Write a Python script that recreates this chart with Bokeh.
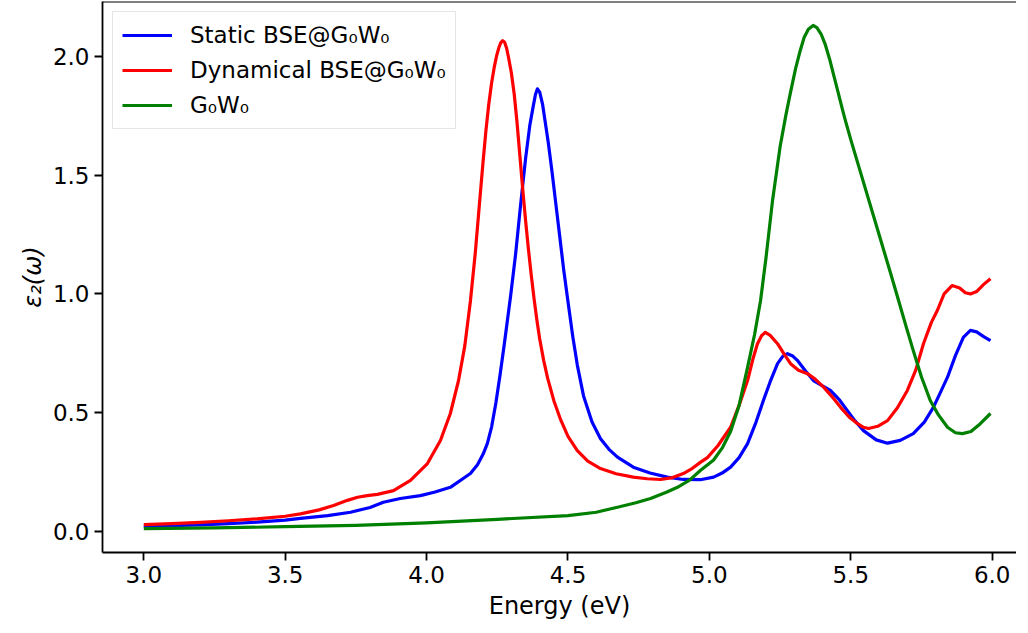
from bokeh.plotting import figure
from bokeh.models import Range1d, Legend, LegendItem, Span
from bokeh.embed import file_html
from bokeh.resources import INLINE

# ---------------- data ----------------
static_x = [3.0, 3.1, 3.2, 3.3, 3.4, 3.5, 3.554, 3.65, 3.731, 3.8, 3.847, 3.907, 3.978,
            4.03, 4.084, 4.155, 4.18, 4.2, 4.215, 4.23, 4.245, 4.26, 4.275, 4.297, 4.315,
            4.332, 4.35, 4.365, 4.377, 4.385, 4.392, 4.40, 4.41, 4.42, 4.43, 4.443, 4.456,
            4.47, 4.485, 4.502, 4.517, 4.533, 4.555, 4.585, 4.615, 4.645, 4.675, 4.731, 4.79,
            4.851, 4.908, 4.968, 5.015, 5.045, 5.075, 5.105, 5.135, 5.165, 5.191, 5.215, 5.241,
            5.26, 5.276, 5.295, 5.311, 5.34, 5.368, 5.4, 5.428, 5.46, 5.488, 5.515, 5.545,
            5.59, 5.63, 5.675, 5.721, 5.76, 5.792, 5.815, 5.842, 5.87, 5.898, 5.923, 5.945,
            5.97, 5.994]
static_y = [0.020, 0.023, 0.027, 0.032, 0.038, 0.047, 0.054, 0.066, 0.080, 0.100, 0.122, 0.138, 0.150,
            0.165, 0.185, 0.243, 0.28, 0.325, 0.37, 0.44, 0.54, 0.66, 0.79, 0.99, 1.17,
            1.37, 1.57, 1.71, 1.79, 1.84, 1.864, 1.85, 1.80, 1.72, 1.64, 1.52, 1.39,
            1.25, 1.10, 0.95, 0.82, 0.70, 0.57, 0.46, 0.39, 0.345, 0.312, 0.27, 0.245,
            0.228, 0.218, 0.217, 0.228, 0.245, 0.27, 0.31, 0.369, 0.46, 0.551, 0.63, 0.706,
            0.738, 0.748, 0.738, 0.72, 0.675, 0.635, 0.612, 0.593, 0.553, 0.508, 0.465, 0.424,
            0.385, 0.371, 0.383, 0.411, 0.46, 0.522, 0.58, 0.649, 0.74, 0.817, 0.846, 0.84,
            0.82, 0.803]

dynamic_x = [3.0, 3.1, 3.2, 3.3, 3.4, 3.5, 3.554, 3.62, 3.671, 3.72, 3.756, 3.79, 3.826,
             3.883, 3.943, 4.003, 4.049, 4.084, 4.113, 4.135, 4.155, 4.172, 4.187, 4.2,
             4.21, 4.22, 4.23, 4.24, 4.248, 4.255, 4.262, 4.269, 4.276, 4.283, 4.29, 4.3,
             4.31, 4.32, 4.33, 4.34, 4.35, 4.36, 4.37, 4.38, 4.39, 4.4, 4.414, 4.428, 4.45,
             4.474, 4.5, 4.533, 4.57, 4.615, 4.67, 4.731, 4.78, 4.827, 4.87, 4.908, 4.94,
             4.968, 4.993, 5.03, 5.075, 5.105, 5.135, 5.155, 5.17, 5.185, 5.198, 5.215, 5.241,
             5.265, 5.287, 5.315, 5.347, 5.375, 5.404, 5.435, 5.464, 5.495, 5.524, 5.545,
             5.563, 5.595, 5.63, 5.665, 5.7, 5.73, 5.757, 5.785, 5.806, 5.83, 5.858, 5.885,
             5.905, 5.923, 5.945, 5.97, 5.994]
dynamic_y = [0.028, 0.032, 0.037, 0.044, 0.052, 0.063, 0.073, 0.09, 0.108, 0.13, 0.143, 0.15, 0.155,
             0.171, 0.214, 0.285, 0.382, 0.496, 0.635, 0.78, 0.97, 1.17, 1.38, 1.56,
             1.69, 1.80, 1.89, 1.96, 2.005, 2.035, 2.058, 2.067, 2.06, 2.035, 1.995, 1.93,
             1.84, 1.72, 1.58, 1.44, 1.31, 1.19, 1.08, 0.98, 0.89, 0.81, 0.72, 0.645, 0.55,
             0.47, 0.40, 0.34, 0.295, 0.264, 0.242, 0.228, 0.221, 0.218, 0.226, 0.243, 0.265,
             0.29, 0.31, 0.36, 0.438, 0.53, 0.635, 0.73, 0.79, 0.825, 0.838, 0.825, 0.79,
             0.745, 0.706, 0.678, 0.664, 0.64, 0.607, 0.565, 0.522, 0.48, 0.453, 0.438,
             0.433, 0.442, 0.466, 0.52, 0.593, 0.68, 0.79, 0.88, 0.93, 1.0, 1.035, 1.025,
             1.005, 1.0, 1.01, 1.04, 1.064]

g0w0_x = [3.0, 3.25, 3.5, 3.75, 4.0, 4.25, 4.5, 4.6, 4.675, 4.74, 4.792, 4.85, 4.887, 4.93,
          4.968, 5.015, 5.045, 5.075, 5.105, 5.135, 5.16, 5.181, 5.2, 5.223, 5.25, 5.27,
          5.287, 5.305, 5.32, 5.335, 5.35, 5.367, 5.38, 5.395, 5.41, 5.425, 5.44, 5.455,
          5.47, 5.481, 5.5, 5.55, 5.6, 5.64, 5.669, 5.695, 5.721, 5.75, 5.781, 5.81, 5.842,
          5.87, 5.895, 5.925, 5.958, 5.994]
g0w0_y = [0.011, 0.014, 0.019, 0.025, 0.035, 0.05, 0.066, 0.08, 0.101, 0.12, 0.138, 0.165, 0.185, 0.215,
          0.256, 0.30, 0.35, 0.42, 0.53, 0.69, 0.83, 0.972, 1.15, 1.39, 1.62, 1.75,
          1.85, 1.95, 2.02, 2.08, 2.115, 2.131, 2.122, 2.095, 2.05, 1.99, 1.92, 1.85,
          1.78, 1.73, 1.65, 1.45, 1.25, 1.09, 0.972, 0.865, 0.761, 0.65, 0.551, 0.49, 0.438,
          0.415, 0.411, 0.42, 0.453, 0.496]

series_labels = ["Static BSE@G\u2080W\u2080", "Dynamical BSE@G\u2080W\u2080", "G\u2080W\u2080"]
series_colors = ["#0000ff", "#ff0000", "#008000"]

x_ticks = [3.0, 3.5, 4.0, 4.5, 5.0, 5.5, 6.0]
x_tick_labels = ["3.0", "3.5", "4.0", "4.5", "5.0", "5.5", "6.0"]
y_ticks = [0.0, 0.5, 1.0, 1.5, 2.0]
y_tick_labels = ["0.0", "0.5", "1.0", "1.5", "2.0"]

x_label = "Energy (eV)"
y_label = "\u03b5\u2082(\u03c9)"

FONT = "DejaVu Sans"
Y_TOP = 2.232

# ---------------- figure ----------------
p = figure(frame_width=914, frame_height=551,
           x_range=Range1d(2.854, 6.086), y_range=Range1d(-0.0897, Y_TOP),
           output_backend="svg", toolbar_location=None,
           min_border_left=102, min_border_right=0, min_border_top=1, min_border_bottom=70,
           background_fill_color="white", border_fill_color="white")
p.outline_line_color = None
p.xgrid.visible = False
p.ygrid.visible = False

renderers = []
for xs, ys, c in zip([static_x, dynamic_x, g0w0_x], [static_y, dynamic_y, g0w0_y], series_colors):
    r = p.line(xs, ys, line_color=c, line_width=3.2, line_join="round")
    renderers.append(r)

for ax in (p.xaxis[0], p.yaxis[0]):
    ax.axis_line_color = "black"
    ax.axis_line_width = 1.8
    ax.major_tick_line_color = "black"
    ax.major_tick_line_width = 1.8
    ax.major_tick_out = 8
    ax.major_tick_in = 0
    ax.minor_tick_line_color = None
    ax.major_label_text_font = FONT
    ax.major_label_text_font_size = "23px"
    ax.major_label_text_color = "black"
    ax.axis_label_text_font = FONT
    ax.axis_label_text_font_size = "24px"
    ax.axis_label_text_color = "black"

p.xaxis.ticker = x_ticks
p.xaxis.major_label_overrides = dict(zip(x_ticks, x_tick_labels))
p.yaxis.ticker = y_ticks
p.yaxis.major_label_overrides = dict(zip(y_ticks, y_tick_labels))
p.xaxis.axis_label = x_label
p.yaxis.axis_label = y_label
p.yaxis.axis_label_text_font_style = "italic"
p.xaxis.axis_label_text_font_style = "normal"
p.xaxis.major_label_standoff = 5
p.yaxis.major_label_standoff = 5
p.xaxis.axis_label_standoff = 6
p.yaxis.axis_label_standoff = 3

top_line = Span(location=Y_TOP, dimension="width", line_color="black", line_width=1.8)
p.add_layout(top_line)

legend = Legend(items=[LegendItem(label=l, renderers=[r]) for l, r in zip(series_labels, renderers)],
                location="top_left")
legend.label_text_font = FONT
legend.label_text_font_size = "23px"
legend.label_text_color = "black"
legend.glyph_width = 50
legend.glyph_height = 28
legend.label_height = 28
legend.label_standoff = 18
legend.spacing = 7
legend.padding = 9
legend.margin = 10
legend.border_line_color = "#cccccc"
legend.border_line_width = 1.5
legend.background_fill_alpha = 0.8
p.add_layout(legend)

open("out.html", "w").write(file_html(p, INLINE))
